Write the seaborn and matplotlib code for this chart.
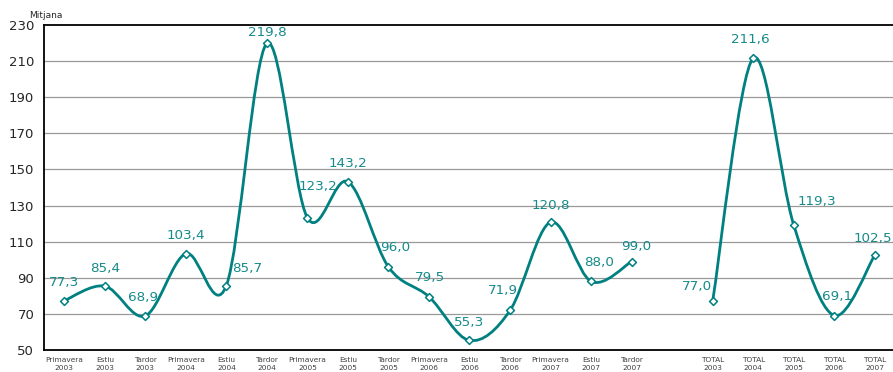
import matplotlib
matplotlib.use("Agg")
import matplotlib.pyplot as plt
import seaborn as sns
import pandas as pd
from matplotlib.path import Path
from matplotlib.patches import PathPatch

# data
season_labels = ["Primavera\n2003", "Estiu\n2003", "Tardor\n2003",
                 "Primavera\n2004", "Estiu\n2004", "Tardor\n2004",
                 "Primavera\n2005", "Estiu\n2005", "Tardor\n2005",
                 "Primavera\n2006", "Estiu\n2006", "Tardor\n2006",
                 "Primavera\n2007", "Estiu\n2007", "Tardor\n2007"]
season_values = [77.3, 85.4, 68.9, 103.4, 85.7, 219.8, 123.2, 143.2, 96.0,
                 79.5, 55.3, 71.9, 120.8, 88.0, 99.0]
total_labels = ["TOTAL\n2003", "TOTAL\n2004", "TOTAL\n2005", "TOTAL\n2006", "TOTAL\n2007"]
total_values = [77.0, 211.6, 119.3, 69.1, 102.5]

# label offsets in pixels (dx, dy)
season_offsets = [(0, 18), (0, 18), (-2, 18), (0, 18), (21, 17), (0, 11),
                  (11, 31), (0, 18), (7, 19), (1, 19), (0, 18), (-7, 20),
                  (0, 17), (8, 19), (5, 15)]
total_offsets = [(-16, 15), (-3, 19), (23, 23), (3, 19), (-2, 17)]

teal = "#008080"
label_col = "#178a8a"

season_x = list(range(len(season_values)))
total_x = list(range(len(season_values) + 1, len(season_values) + 1 + len(total_values)))
tick_labels = season_labels + [""] + total_labels

df_s = pd.DataFrame({"x": season_x, "y": season_values})
df_t = pd.DataFrame({"x": total_x, "y": total_values})


def smooth_path(xs, ys):
    # cardinal spline (Excel-like smoothing) as cubic Bezier segments
    verts = [(xs[0], ys[0])]
    codes = [Path.MOVETO]
    n = len(xs)
    for i in range(n - 1):
        x0, y0 = (xs[i - 1], ys[i - 1]) if i > 0 else (xs[i], ys[i])
        x1, y1 = xs[i], ys[i]
        x2, y2 = xs[i + 1], ys[i + 1]
        x3, y3 = (xs[i + 2], ys[i + 2]) if i + 2 < n else (xs[i + 1], ys[i + 1])
        c1 = (x1 + (x2 - x0) / 6, y1 + (y2 - y0) / 6)
        c2 = (x2 - (x3 - x1) / 6, y2 - (y3 - y1) / 6)
        verts += [c1, c2, (x2, y2)]
        codes += [Path.CURVE4] * 3
    return Path(verts, codes)


sns.set_style("white")
plt.rcParams["font.family"] = ["DejaVu Sans"]

fig = plt.figure(figsize=(8.93, 3.72), dpi=100)
ax = fig.add_axes([44 / 893, 1 - 350 / 372, 851 / 893, 325 / 372])

ax.set_ylim(50, 230)
ax.set_xlim(-0.5, 20.5)
ax.set_yticks(range(50, 231, 20))
ax.set_xticks(range(len(tick_labels)))
ax.set_xticklabels(tick_labels, fontsize=5.3, color="#404040", linespacing=1.5)
ax.tick_params(axis="y", labelsize=9.5, length=0, pad=7)
ax.tick_params(axis="x", length=0, pad=5)

for v in range(70, 230, 20):
    ax.axhline(v, color="#999999", lw=0.9, zorder=0)

for s in ["left", "bottom", "top"]:
    ax.spines[s].set_color("black")
    ax.spines[s].set_linewidth(1.3)
ax.spines["right"].set_visible(False)

for xs, ys in [(season_x, season_values), (total_x, total_values)]:
    ax.add_patch(PathPatch(smooth_path(xs, ys), facecolor="none", edgecolor=teal,
                           lw=2.0, zorder=2, capstyle="round"))

for d in [df_s, df_t]:
    sns.scatterplot(data=d, x="x", y="y", ax=ax, marker="D", s=16, color="white",
                    edgecolor=teal, linewidth=1.1, zorder=3, legend=False)

for xs, ys, offs in [(season_x, season_values, season_offsets),
                     (total_x, total_values, total_offsets)]:
    for x, y, (dx, dy) in zip(xs, ys, offs):
        ax.annotate(f"{y:.1f}".replace(".", ","), (x, y), xytext=(dx, dy),
                    textcoords="offset pixels", ha="center", va="center",
                    fontsize=9.7, color=label_col, annotation_clip=False)

ax.set_xlabel("")
ax.set_ylabel("")
fig.text(46 / 893, 1 - 15 / 372, "Mitjana", fontsize=6.5, ha="center", va="center")

fig.savefig("out.png", dpi=100)
